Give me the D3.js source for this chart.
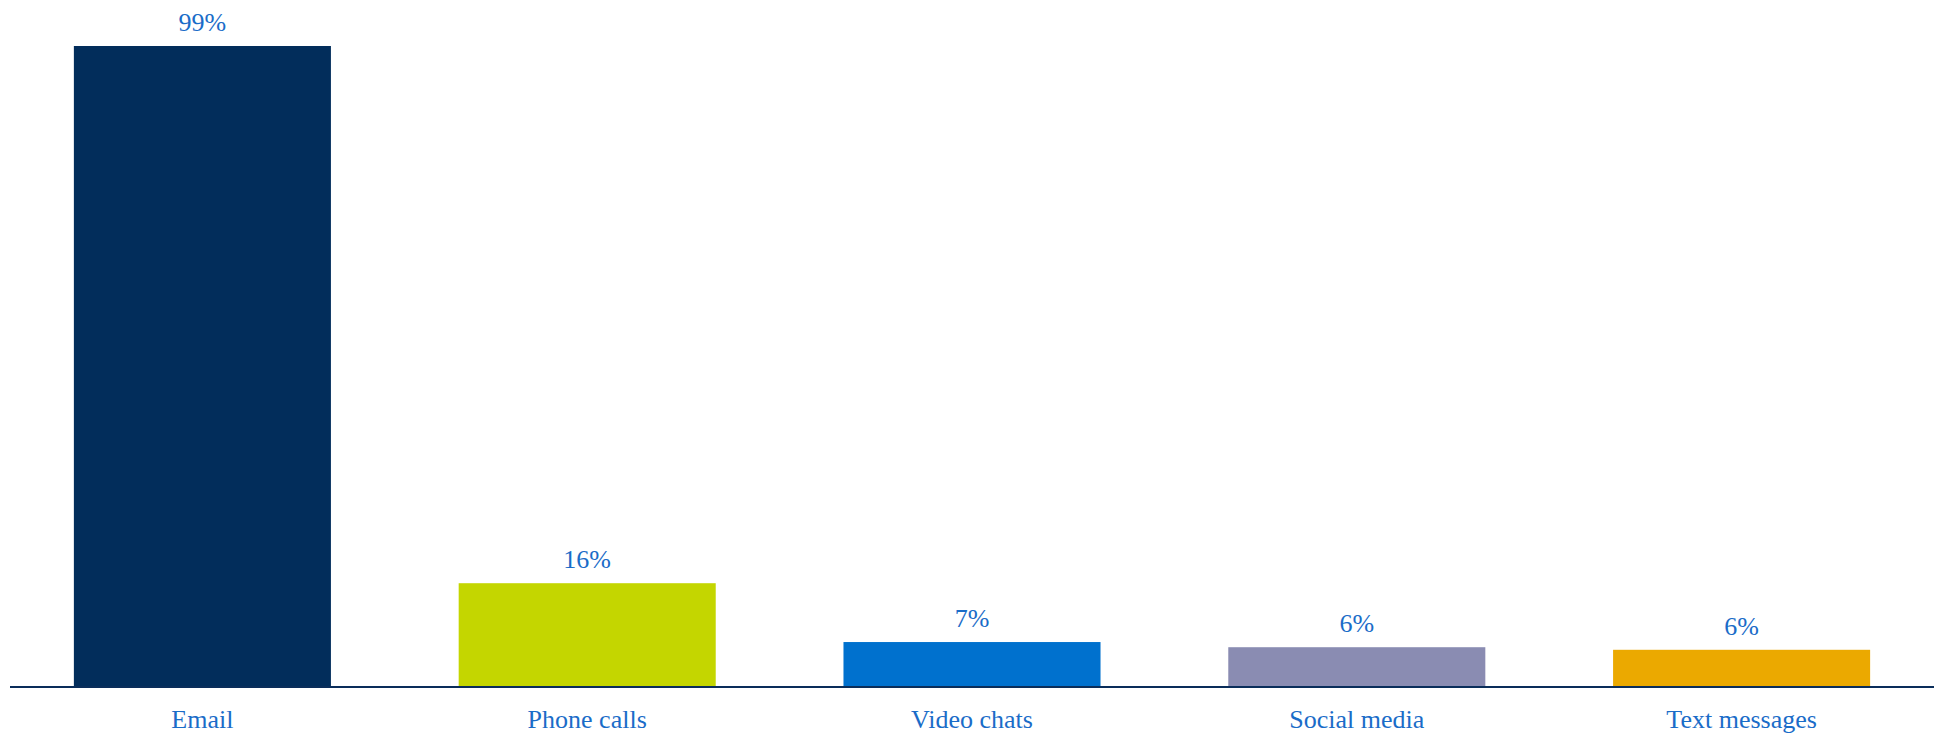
<!DOCTYPE html>
<html>
<head>
<meta charset="utf-8">
<script src="https://cdn.jsdelivr.net/npm/d3@7"></script>
<style>
  body { margin: 0; background: #fff; }
  svg text { font-family: "Liberation Serif", "DejaVu Serif", serif; fill: #1a6cc8; }
</style>
</head>
<body>
<div id="chart"></div>
<script>
// data
const categories = ["Email", "Phone calls", "Video chats", "Social media", "Text messages"];
const values = [99, 15.9, 6.8, 6.0, 5.6];
const valueLabels = ["99%", "16%", "7%", "6%", "6%"];
const barColors = ["#022d5b", "#c4d600", "#0071ce", "#8a8cb2", "#eba900"];

const w = 1941;
const h = 735;
const margin = { top: 46, right: 7, bottom: 49, left: 10 };

const svg = d3.select("#chart")
      .append("svg")
      .attr("width", w)
      .attr("height", h);

const x = d3.scaleBand()
      .domain(categories)
      .range([margin.left, w - margin.right])
      .paddingInner(0.332)
      .paddingOuter(0.166);

const y = d3.scaleLinear()
      .domain([0, 99])
      .range([h - margin.bottom, margin.top]);

const rows = categories.map((c, i) => ({ name: c, value: values[i], label: valueLabels[i], color: barColors[i] }));

//bars
svg.selectAll(".bar")
      .data(rows)
      .enter()
      .append("rect")
      .attr("class", "bar")
      .attr("x", (d) => x(d.name))
      .attr("y", (d) => y(d.value))
      .attr("width", x.bandwidth())
      .attr("height", (d) => y(0) - y(d.value))
      .style("fill", (d) => d.color);

//value labels above bars
svg.selectAll(".valueLabel")
      .data(rows)
      .enter()
      .append("text")
      .attr("class", "valueLabel")
      .attr("x", (d) => x(d.name) + x.bandwidth() / 2)
      .attr("y", (d) => y(d.value) - 15)
      .attr("text-anchor", "middle")
      .style("font-size", "26px")
      .text((d) => d.label);

//x axis
const xAxis = svg.append("g")
      .attr("transform", `translate(0,${y(0)})`)
      .call(d3.axisBottom(x).tickSize(0).tickPadding(0));

xAxis.select(".domain")
      .attr("d", `M${margin.left},1H${w - margin.right}`)
      .style("stroke", "#0a2d5a")
      .style("stroke-width", 2);

xAxis.selectAll("text")
      .attr("dy", 0)
      .attr("y", 42)
      .style("font-size", "26px")
      .style("font-family", "Liberation Serif, DejaVu Serif, serif")
      .style("fill", "#1a6cc8");
</script>
</body>
</html>
